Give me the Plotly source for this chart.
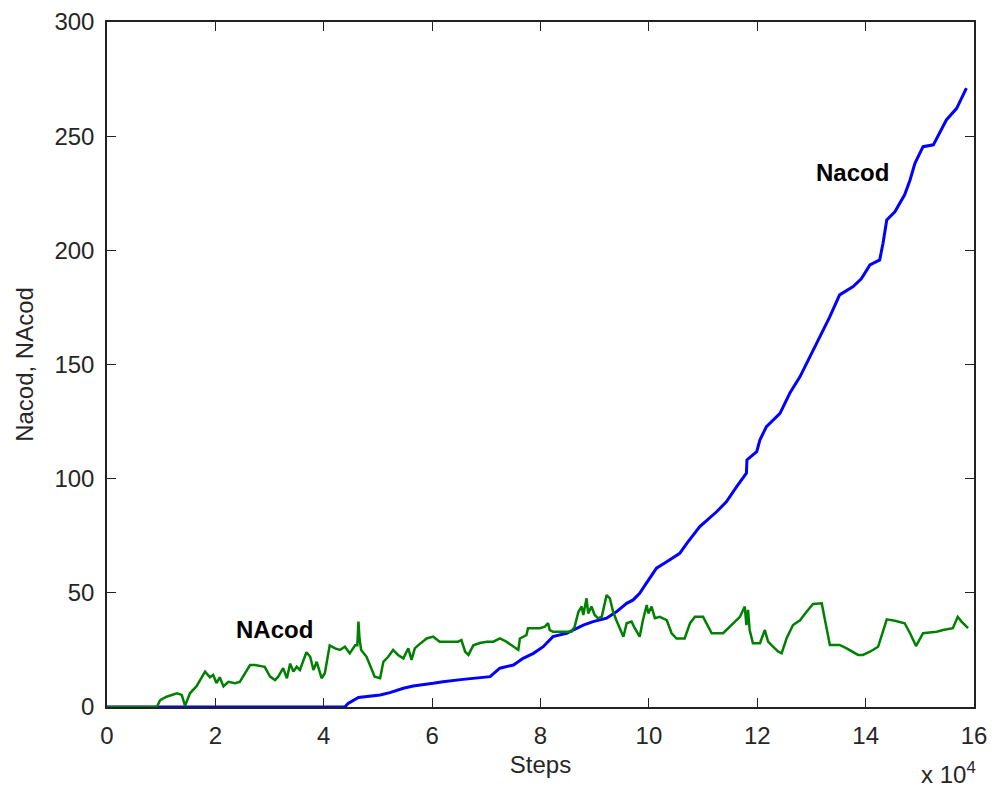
import plotly.graph_objects as go

# Simulation steps (raw counts) and the two tracked quantities
steps_nacod = [0, 43900, 44500, 46400, 50400, 52200, 54700, 56500, 60200, 62000, 65700,
               67600, 70700, 72500, 75000, 76800, 78700, 80500, 82300, 84800, 86000,
               87900, 89700, 92200, 94000, 95900, 97100, 98300, 99300, 100200, 101400,
               103300, 105700, 107000, 109400, 112500, 114300, 116200, 118000, 118100,
               119900, 120500, 121700, 124200, 126000, 127900, 129700, 131500, 133400,
               135200, 137700, 139200, 140800, 142600, 143200, 143900, 145400, 147200,
               148200, 149100, 150600, 152500, 153700, 154900, 156800, 158600]
nacod = [0, 0, 1.6, 4.2, 5.3, 6.3, 8.2, 9.2, 10.4, 11.1, 12.1,
         12.6, 13.3, 17.0, 18.4, 21.3, 23.5, 26.4, 30.8, 32.3, 33.7,
         35.9, 37.4, 38.9, 41.7, 45.4, 46.9, 49.8, 53.4, 56.4, 60.8,
         63.6, 67.3, 71.7, 79.0, 85.5, 89.9, 96.5, 102.4, 108.2,
         111.8, 117.0, 122.8, 128.6, 137.4, 144.7, 153.4, 162.2, 171.0,
         180.5, 184.1, 187.5, 193.6, 195.8, 203.0, 213.3, 216.9, 224.3,
         230.8, 238.1, 245.4, 246.2, 252.0, 257.1, 262.2, 271.0]

steps_NAcod = [0, 9200, 9800, 11000, 12900, 13800, 14400, 15300, 16500, 18100, 19000,
               19600, 20200, 20800, 21500, 22400, 23600, 24500, 26400, 27300, 29100,
               30100, 31000, 31600, 32500, 33200, 33800, 34400, 35000, 35600, 36800,
               37500, 38100, 38700, 39600, 40200, 41100, 42100, 43000, 43900, 44800,
               45800, 46200, 46400, 46600, 46900, 47900, 49400, 50400, 51000, 51900,
               52800, 53700, 54700, 55600, 56200, 56800, 57400, 59000, 60200, 61400,
               64800, 65400, 66100, 66700, 67600, 68800, 70100, 71300, 72500, 73700,
               75000, 75900, 76200, 77400, 77700, 79900, 80800, 81400, 81700, 82300,
               85700, 86300, 87000, 87600, 87900, 88500, 88800, 89400, 90000, 90600,
               91300, 91900, 92200, 92800, 93400, 94000, 94700, 95300, 95900, 96800,
               97400, 98300, 98900, 99600, 99900, 100500, 101100, 102000, 103300,
               104200, 105100, 106600, 107600, 108500, 110000, 110900, 111600, 113700,
               115300, 116800, 117700, 118000, 118300, 118600, 119200, 120500, 121400,
               122000, 122900, 123900, 124500, 125400, 126600, 127900, 129100, 130300,
               131900, 133400, 135200, 136500, 138600, 139500, 140800, 142300, 142900,
               143900, 145400, 147200, 148200, 149300, 150600, 153100, 154300, 156100,
               157000, 157700, 158900]
NAcod = [0, 0, 3.0, 4.5, 6.0, 5.3, 0.5, 6.0, 9.0, 15.5, 13.0,
         14.0, 10.5, 13.0, 9.0, 11.0, 10.4, 11.0, 18.4, 18.4, 17.6,
         13.3, 11.8, 13.3, 17.0, 12.6, 19.0, 15.5, 17.6, 16.2, 24.0,
         22.0, 16.2, 19.8, 12.6, 14.8, 27.0, 25.7, 25.0, 26.4, 23.5,
         27.0, 27.0, 37.4, 30.0, 25.0, 22.0, 13.3, 12.6, 19.8, 22.0,
         25.0, 22.8, 21.3, 25.7, 20.6, 25.7, 27.0, 30.0, 30.8, 28.6,
         28.6, 29.3, 24.2, 22.8, 27.0, 28.0, 28.6, 28.6, 30.0, 28.6,
         26.4, 25.0, 30.0, 31.5, 34.5, 34.5, 35.2, 36.7, 33.7, 33.0,
         33.0, 35.2, 41.7, 44.0, 40.3, 47.6, 41.0, 44.0, 40.3, 38.9,
         39.5, 46.9, 49.0, 47.6, 41.7, 38.0, 34.5, 30.8, 36.7, 37.4,
         34.5, 30.8, 38.0, 44.7, 41.0, 44.0, 38.9, 39.5, 38.0,
         32.3, 30.0, 30.0, 36.7, 39.5, 39.5, 35.2, 32.3, 32.3,
         35.9, 39.5, 44.0, 35.9, 42.5, 33.7, 27.9, 27.9, 33.7,
         28.6, 26.4, 24.2, 23.5, 30.0, 35.9, 38.0, 41.7, 45.1,
         45.4, 27.2, 27.2, 25.7, 22.8, 22.8, 24.2, 26.4, 30.8,
         38.4, 37.8, 36.7, 32.3, 26.7, 32.3, 33.0, 33.7, 34.5,
         39.5, 37.4, 34.5]

x_tickvals = [0, 20000, 40000, 60000, 80000, 100000, 120000, 140000, 160000]
x_ticktext = ["0", "2", "4", "6", "8", "10", "12", "14", "16"]
y_tickvals = [0, 50, 100, 150, 200, 250, 300]

FONT = "Liberation Sans, Arial, sans-serif"
TICK_COLOR = "#262626"

fig = go.Figure()
fig.add_trace(go.Scatter(x=steps_nacod, y=nacod, mode="lines",
                         line=dict(color="#0000ff", width=3), name="Nacod"))
fig.add_trace(go.Scatter(x=steps_NAcod, y=NAcod, mode="lines",
                         line=dict(color="#008000", width=2.5), name="NAcod"))

axis_common = dict(
    showgrid=False, zeroline=False, showline=True, linecolor="#222222", linewidth=1.5,
    mirror="ticks", ticks="inside", ticklen=9, tickwidth=1.3, tickcolor="#222222",
    tickfont=dict(family=FONT, size=24, color=TICK_COLOR), automargin=False,
)

fig.update_layout(
    width=994, height=792,
    margin=dict(l=107, r=20, t=22, b=85, autoexpand=False),
    paper_bgcolor="white", plot_bgcolor="white",
    showlegend=False,
    xaxis=dict(range=[0, 160000], tickvals=x_tickvals, ticktext=x_ticktext,
               ticklabelstandoff=6,
               title=dict(text="Steps", font=dict(family=FONT, size=24, color=TICK_COLOR),
                          standoff=9),
               **axis_common),
    yaxis=dict(range=[0, 300], tickvals=y_tickvals,
               ticklabelstandoff=6,
               title=dict(text="Nacod, NAcod", font=dict(family=FONT, size=24, color=TICK_COLOR),
                          standoff=14),
               **axis_common),
    annotations=[
        dict(x=137500, y=234, text="<b>Nacod</b>", showarrow=False,
             font=dict(family=FONT, size=24, color="black")),
        dict(x=31000, y=34, text="<b>NAcod</b>", showarrow=False,
             font=dict(family=FONT, size=24, color="black")),
        dict(xref="paper", yref="paper", x=1.0, y=0, xanchor="right", yanchor="middle",
             xshift=4, yshift=-66, text="x 10<sup>4</sup>", showarrow=False,
             font=dict(family=FONT, size=24, color=TICK_COLOR)),
    ],
)

fig.write_html("out.html")
